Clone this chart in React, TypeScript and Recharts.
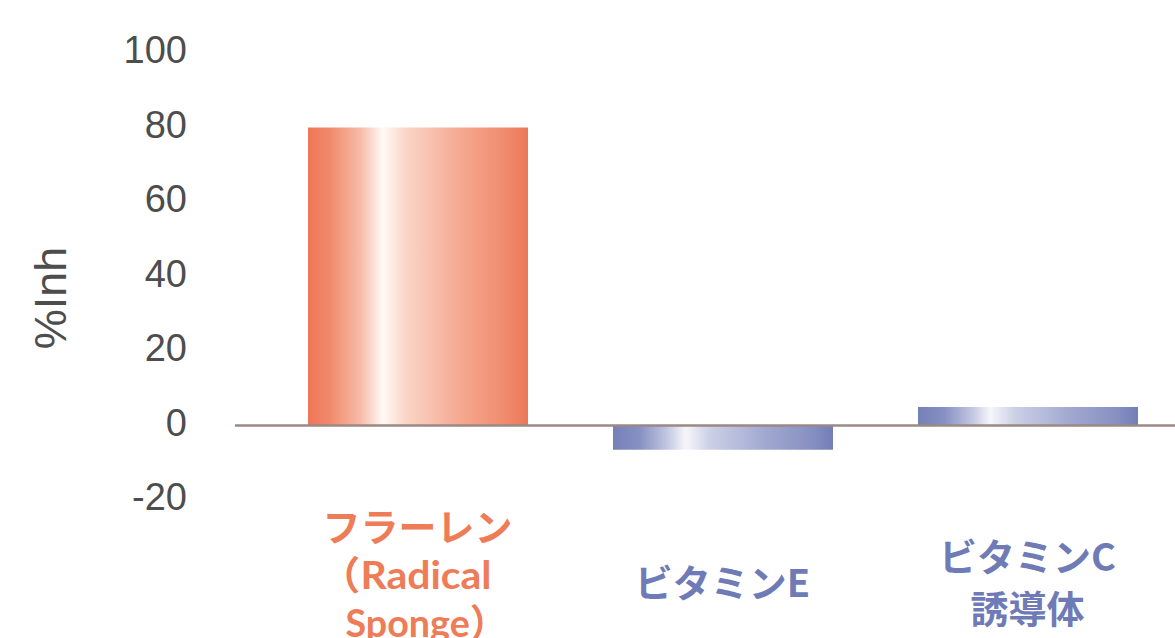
import { Bar, BarChart, Cell, ReferenceLine, XAxis, YAxis } from "recharts";

// values
const categories = ["フラーレン（Radical Sponge）", "ビタミンE", "ビタミンC誘導体"];
const inhibition = [80, -6.5, 5];
const categoryLines = [
  ["フラーレン", "（Radical", "Sponge）"],
  ["ビタミンE"],
  ["ビタミンC", "誘導体"],
];
const yTicks = [-20, 0, 20, 40, 60, 80, 100];

const data = categories.map((name, i) => ({ name, value: inhibition[i] }));

const ORANGE = "#ee7c57";
const BLUE = "#6f7bb6";
const labelColors = [ORANGE, BLUE, BLUE];
const fills = ["url(#orangeGrad)", "url(#blueGrad)", "url(#blueGrad)"];
// vertical centres of each label line, measured from the axis baseline
const lineOffsets = [
  [24, 74, 122],
  [80],
  [54, 106],
];
// the latin lines are set narrower in the reference (width, horizontal shift)
const latinFit: Record<string, [number, number]> = {
  "（Radical": [172, -12],
  "Sponge）": [162, 9],
};

function YTick(props: any) {
  const { x, y, payload } = props;
  return (
    <text
      x={x}
      y={y - 3}
      textAnchor="end"
      dominantBaseline="central"
      fontFamily="'Liberation Sans', Arial, sans-serif"
      fontSize={38}
      fill="#4d4d4d"
    >
      {payload.value}
    </text>
  );
}

function CategoryTick(props: any) {
  const { x, y, index } = props;
  const lines = categoryLines[index] ?? [];
  return (
    <g>
      {lines.map((line, i) => {
        const fit = latinFit[line];
        return (
          <text
            key={line}
            x={x + (fit ? fit[1] : 0)}
            y={y + lineOffsets[index][i]}
            textAnchor="middle"
            dominantBaseline="central"
            fontFamily={
              fit ? "Lato, 'Noto Sans CJK JP', sans-serif" : "'Noto Sans CJK JP', 'Noto Sans', sans-serif"
            }
            fontWeight={700}
            fontSize={fit ? 39 : 38}
            fill={labelColors[index]}
            textLength={fit ? fit[0] : undefined}
            lengthAdjust={fit ? "spacingAndGlyphs" : undefined}
          >
            {line}
          </text>
        );
      })}
    </g>
  );
}

function AxisTitle(props: any) {
  const { viewBox } = props;
  const cx = 50;
  const cy = viewBox.y + 245;
  return (
    <text
      x={cx}
      y={cy}
      transform={`rotate(-90 ${cx} ${cy})`}
      textAnchor="middle"
      dominantBaseline="central"
      fontFamily="'Liberation Sans', Arial, sans-serif"
      fontSize={45}
      fill="#4d4d4d"
    >
      %Inh
    </text>
  );
}

export default function App() {
  return (
    <div
      style={{
        position: "absolute",
        left: 0,
        top: 0,
        width: 1175,
        height: 638,
        overflow: "hidden",
        background: "#fff",
      }}
    >
      <BarChart
        width={1200}
        height={638}
        data={data}
        margin={{ top: 53, right: 0, bottom: 0, left: 0 }}
      >
        <defs>
          <linearGradient id="orangeGrad" x1="0" y1="0" x2="1" y2="0">
            <stop offset="0%" stopColor="#ee7656" />
            <stop offset="10%" stopColor="#f08a6c" />
            <stop offset="24%" stopColor="#f6bba8" />
            <stop offset="34%" stopColor="#fff9f5" />
            <stop offset="44%" stopColor="#fad6c9" />
            <stop offset="70%" stopColor="#f5a78e" />
            <stop offset="90%" stopColor="#f08b6d" />
            <stop offset="100%" stopColor="#ec7758" />
          </linearGradient>
          <linearGradient id="blueGrad" x1="0" y1="0" x2="1" y2="0">
            <stop offset="0%" stopColor="#7580b8" />
            <stop offset="12%" stopColor="#8790c2" />
            <stop offset="24%" stopColor="#bfc4e0" />
            <stop offset="33%" stopColor="#f6f6fa" />
            <stop offset="44%" stopColor="#ccd0e6" />
            <stop offset="70%" stopColor="#a0a7d0" />
            <stop offset="90%" stopColor="#8790c2" />
            <stop offset="100%" stopColor="#737eb6" />
          </linearGradient>
        </defs>
        <XAxis
          dataKey="name"
          axisLine={false}
          tickLine={false}
          tickSize={0}
          tickMargin={0}
          interval={0}
          height={138}
          padding={{ left: 30, right: 20 }}
          tick={<CategoryTick />}
        />
        <YAxis
          width={235}
          domain={[-20, 100]}
          ticks={yTicks}
          interval={0}
          axisLine={false}
          tickLine={false}
          tickSize={0}
          tickMargin={48}
          tick={<YTick />}
          label={<AxisTitle />}
        />
        <Bar dataKey="value" barSize={220} isAnimationActive={false}>
          {data.map((d, i) => (
            <Cell key={d.name} fill={fills[i]} />
          ))}
        </Bar>
        <ReferenceLine y={0} stroke="#9b8984" strokeWidth={2.5} />
      </BarChart>
    </div>
  );
}
